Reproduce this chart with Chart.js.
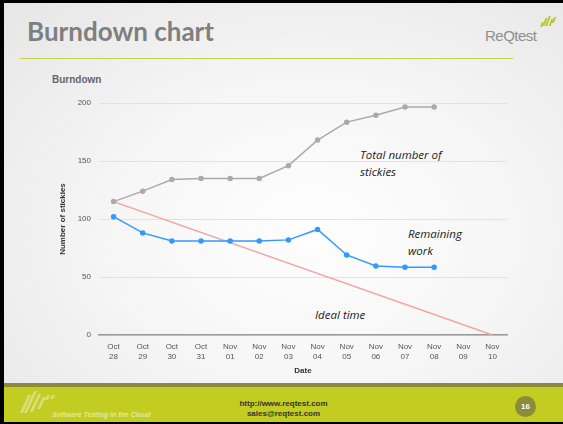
<!DOCTYPE html>
<html>
<head>
<meta charset="utf-8">
<script src="https://cdn.jsdelivr.net/npm/chart.js@4.4.0/dist/chart.umd.min.js"></script>
<style>
    html, body { margin: 0; padding: 0; }
    body { width: 563px; height: 424px; overflow: hidden; background: #000; }
    #slide {
        position: absolute; left: 4px; top: 3px; width: 559px; height: 419px;
        background: radial-gradient(ellipse at 55% 55%, #fefefe 0%, #f6f6f6 45%, #e6e6e6 100%);
        overflow: hidden;
    }
    #title {
        position: absolute; left: 23px; top: 12px;
        font: bold 26px Lato, sans-serif; color: #7f7f7f;
    }
    #rule { position: absolute; left: 16px; top: 55px; width: 493px; height: 1px; background: #c5d34c; }
    #logo { position: absolute; left: 481px; top: 24px; font: 15px "Liberation Sans", Arial, sans-serif; color: #8f8f8f; letter-spacing: -0.5px; }
    .bar { position: absolute; width: 2px; background: #b8c832; transform: skewX(-20deg); }
    #chartTitle { position: absolute; left: 48px; top: 71px; font: bold 10px "Liberation Sans", Arial, sans-serif; color: #666; }
    .note { position: absolute; font: italic 11.5px "Open Sans", sans-serif; color: #222; line-height: 17px; }
    #footer { position: absolute; left: 0; top: 380px; width: 559px; height: 39px; background: #c3cc21; border-top: 4px solid #8b8b3b; }
    #links { position: absolute; left: 0; width: 559px; top: 396px; text-align: center; font: bold 8px "Liberation Sans", Arial, sans-serif; color: #333; line-height: 10px; }
    #page { position: absolute; left: 511px; top: 393px; width: 21px; height: 21px; border-radius: 50%; background: #8b8b3b; color: #fff; font: bold 8px "Liberation Sans", Arial, sans-serif; text-align: center; line-height: 21px; }
    #tag { position: absolute; left: 48px; top: 408px; font: italic bold 7px "Liberation Sans", Arial, sans-serif; color: #e4ea9a; }
    .fbar { position: absolute; width: 3px; background: #d8df7a; transform: skewX(-25deg); }
    canvas { position: absolute; left: 0; top: 0; }
</style>
</head>
<body>
<div id="slide">
    <div id="title">Burndown chart</div>
    <div id="logo">ReQtest</div>
    <div class="bar" style="left:540px; top:15px; height:8px;"></div>
    <div class="bar" style="left:543px; top:13px; height:10px;"></div>
    <div class="bar" style="left:546px; top:16px; height:7px;"></div>
    <div class="bar" style="left:549px; top:14px; height:6px;"></div>
    <div class="bar" style="left:537px; top:19px; height:5px;"></div>
    <div id="rule"></div>
    <div id="chartTitle">Burndown</div>
    <div class="note" style="left:356px; top:143px;">Total number of<br>stickies</div>
    <div class="note" style="left:404px; top:222px;">Remaining<br>work</div>
    <div class="note" style="left:311px; top:303px;">Ideal time</div>
    <div id="footer"></div>
    <div class="fbar" style="left:20px; top:392px; height:18px;"></div>
    <div class="fbar" style="left:25px; top:388px; height:22px;"></div>
    <div class="fbar" style="left:30px; top:391px; height:18px;"></div>
    <div class="fbar" style="left:36px; top:394px; height:12px;"></div>
    <div class="fbar" style="left:42px; top:392px; height:5px;"></div>
    <div class="fbar" style="left:47px; top:392px; height:4px;"></div>
    <div id="links">http://www.reqtest.com<br>sales@reqtest.com</div>
    <div id="page">16</div>
    <div id="tag">Software Testing in the Cloud</div>
</div>
<canvas id="burndownChart" width="563" height="424"></canvas>
<script>
const months = ['Oct', 'Oct', 'Oct', 'Oct', 'Nov', 'Nov', 'Nov', 'Nov', 'Nov', 'Nov', 'Nov', 'Nov', 'Nov', 'Nov'];
const days = ['28', '29', '30', '31', '01', '02', '03', '04', '05', '06', '07', '08', '09', '10'];
const totalStickies = [115, 124, 134, 135, 135, 135, 146, 168, 183.5, 189.5, 196.5, 196.5, null, null];
const remainingWork = [102, 88, 81, 81, 81, 81, 82, 91, 69, 59.5, 58.5, 58.5, null, null];
const idealTime = [115, null, null, null, null, null, null, null, null, null, null, null, null, 0];
const yTicks = [0, 50, 100, 150, 200];

const tickFont = { family: 'Liberation Sans, Arial, sans-serif', size: 8 };

new Chart(document.getElementById('burndownChart'), {
    type: 'line',
    data: {
        labels: months.map(function (m, i) { return [m, days[i]]; }),
        datasets: [{
            label: 'Total number of stickies',
            data: totalStickies,
            borderColor: '#aaaaaa',
            backgroundColor: '#aaaaaa',
            borderWidth: 1.5,
            pointRadius: 2,
            tension: 0
        }, {
            label: 'Remaining work',
            data: remainingWork,
            borderColor: '#3399ff',
            backgroundColor: '#3399ff',
            borderWidth: 1.5,
            pointRadius: 2,
            tension: 0
        }, {
            label: 'Ideal time',
            data: idealTime,
            borderColor: '#f4a3a3',
            borderWidth: 1.5,
            pointRadius: 0,
            spanGaps: true,
            tension: 0
        }]
    },
    options: {
        responsive: false,
        animation: false,
        layout: { padding: { left: 54, right: 56, top: 103, bottom: 44 } },
        plugins: { legend: { display: false }, tooltip: { enabled: false } },
        scales: {
            x: {
                offset: true,
                grid: { display: false },
                border: { color: '#999999', width: 1.5 },
                ticks: { color: '#555', font: tickFont, maxRotation: 0, autoSkip: false, padding: -1 },
                title: { display: true, text: 'Date', color: '#333', font: { family: 'Liberation Sans, Arial, sans-serif', size: 8, weight: 'bold' }, padding: { top: 4 } },
                afterFit: function (scale) { scale.height = 45; }
            },
            y: {
                min: 0,
                max: 200,
                afterBuildTicks: function (scale) { scale.ticks = yTicks.map(function (v) { return { value: v }; }); },
                grid: { color: '#e2e2e2', drawTicks: false },
                border: { display: false },
                ticks: { color: '#555', font: tickFont, padding: 8 },
                title: { display: true, text: 'Number of stickies', color: '#333', font: { family: 'Liberation Sans, Arial, sans-serif', size: 8, weight: 'bold' } },
                afterFit: function (scale) { scale.width = 45; }
            }
        }
    }
});
</script>
</body>
</html>
